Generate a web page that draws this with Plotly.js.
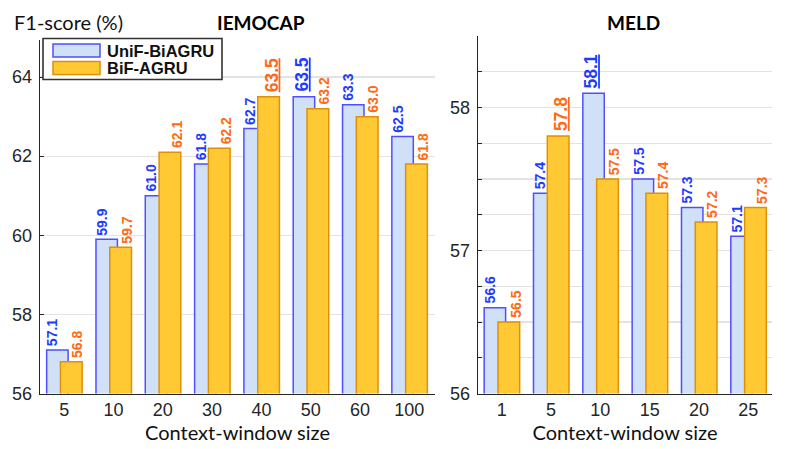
<!DOCTYPE html>
<html>
<head>
<meta charset="utf-8">
<script src="https://cdn.plot.ly/plotly-3.0.1.min.js"></script>
<style>html,body{margin:0;padding:0;background:#fff;}#chart{width:789px;height:449px;}</style>
</head>
<body>
<div id="chart"></div>
<script>
// ---- data ----
const seriesNames = ['UniF-BiAGRU', 'BiF-AGRU'];
const iemocapCats = ['5', '10', '20', '30', '40', '50', '60', '100'];
const iemocapUniF = [57.1, 59.9, 61.0, 61.8, 62.7, 63.5, 63.3, 62.5];
const iemocapBiF  = [56.8, 59.7, 62.1, 62.2, 63.5, 63.2, 63.0, 61.8];
const meldCats = ['1', '5', '10', '15', '20', '25'];
const meldUniF = [56.6, 57.4, 58.1, 57.5, 57.3, 57.1];
const meldBiF  = [56.5, 57.8, 57.5, 57.4, 57.2, 57.3];
const iemocapTicks = [56, 58, 60, 62, 64];
const meldTicks = [56, 57, 58];

// ---- styles ----
const blueFill = '#cfe0f7', blueEdge = '#4f4fff', blueText = '#1d3cff';
const orangeFill = '#ffc933', orangeEdge = '#e08f0a', orangeText = '#ff6a14';
const axisColor = '#262626', gridColor = '#e3e3e3';
const sansFamily = 'Liberation Sans, Arial, sans-serif';
const tickFont = {family: sansFamily, size: 18, color: axisColor};
const titleFontFamily = 'Lato, Open Sans, sans-serif';

function bars(cats, vals, xa, ya, isBlue) {
  return {
    type: 'bar', x: cats, y: vals, xaxis: xa, yaxis: ya,
    name: isBlue ? seriesNames[0] : seriesNames[1],
    showlegend: false,
    offset: isBlue ? -0.355 : -0.075,
    width: isBlue ? 0.435 : 0.44,
    marker: {color: isBlue ? blueFill : orangeFill,
             line: {color: isBlue ? blueEdge : orangeEdge, width: 1.5}},
    hoverinfo: 'x+y'
  };
}

function labels(vals, xref, yref, isBlue) {
  const mx = Math.max(...vals);
  return vals.map((v, i) => {
    const big = v === mx;
    const txt = '<b>' + v.toFixed(1) + '</b>';
    return {
      xref: xref, yref: yref, x: i, y: v,
      text: big ? '<u>' + txt + '</u>' : txt,
      showarrow: false, textangle: -90,
      xanchor: 'center', yanchor: 'bottom',
      xshift: isBlue ? (big ? -9 : -11.5) : (big ? 10 : 13.5),
      yshift: big ? 3 : 2,
      font: {family: sansFamily, size: big ? 17.5 : 14,
             color: isBlue ? blueText : orangeText}
    };
  });
}

const data = [
  bars(iemocapCats, iemocapUniF, 'x', 'y', true),
  bars(iemocapCats, iemocapBiF, 'x', 'y', false),
  bars(meldCats, meldUniF, 'x2', 'y2', true),
  bars(meldCats, meldBiF, 'x2', 'y2', false)
];

const W = 789, H = 449;
const px = v => v / W, py = v => (H - v) / H;

const annotations = [].concat(
  labels(iemocapUniF, 'x', 'y', true),
  labels(iemocapBiF, 'x', 'y', false),
  labels(meldUniF, 'x2', 'y2', true),
  labels(meldBiF, 'x2', 'y2', false),
  [
    {xref: 'paper', yref: 'paper', x: px(12), y: py(22), xanchor: 'left', yanchor: 'middle',
     showarrow: false, text: 'F1-score (%)', font: {family: titleFontFamily, size: 20, color: '#111'}},
    {xref: 'paper', yref: 'paper', x: px(261), y: py(23), xanchor: 'center', yanchor: 'middle',
     showarrow: false, text: '<b>IEMOCAP</b>', font: {family: titleFontFamily, size: 19, color: '#000'}},
    {xref: 'paper', yref: 'paper', x: px(633), y: py(23), xanchor: 'center', yanchor: 'middle',
     showarrow: false, text: '<b>MELD</b>', font: {family: titleFontFamily, size: 19, color: '#000'}},
    {xref: 'paper', yref: 'paper', x: px(105), y: py(51), xanchor: 'left', yanchor: 'middle',
     showarrow: false, text: '<b>' + seriesNames[0] + '</b>',
     font: {family: sansFamily, size: 16.5, color: '#111'}},
    {xref: 'paper', yref: 'paper', x: px(105), y: py(68), xanchor: 'left', yanchor: 'middle',
     showarrow: false, text: '<b>' + seriesNames[1] + '</b>',
     font: {family: sansFamily, size: 16.5, color: '#111'}}
  ]
);

const shapes = [
  {type: 'rect', xref: 'paper', yref: 'paper', x0: px(43), x1: px(222), y0: py(79.5), y1: py(38.5),
   fillcolor: '#fff', line: {color: '#333', width: 1.6}, layer: 'above'},
  {type: 'rect', xref: 'paper', yref: 'paper', x0: px(53), x1: px(100), y0: py(57), y1: py(44),
   fillcolor: blueFill, line: {color: blueEdge, width: 1.5}, layer: 'above'},
  {type: 'rect', xref: 'paper', yref: 'paper', x0: px(53), x1: px(100), y0: py(74.5), y1: py(61.5),
   fillcolor: orangeFill, line: {color: orangeEdge, width: 1.5}, layer: 'above'}
];

const xCommon = {
  type: 'category', showline: true, linecolor: axisColor, linewidth: 1.3,
  ticks: '', showgrid: false, zeroline: false, tickfont: tickFont, ticklabelstandoff: 0,
  title: {text: 'Context-window size', font: {family: titleFontFamily, size: 20, color: '#111'}, standoff: 3}
};
const yCommon = {
  showline: true, linecolor: axisColor, linewidth: 1.3, zeroline: false,
  ticks: 'inside', ticklen: 4, tickcolor: axisColor, tickwidth: 1,
  showgrid: true, gridcolor: gridColor, gridwidth: 1.2, tickfont: tickFont, ticklabelstandoff: 3
};

const layout = {
  width: W, height: H,
  margin: {l: 0, r: 0, t: 0, b: 0},
  paper_bgcolor: '#fff', plot_bgcolor: '#fff',
  barmode: 'overlay', showlegend: false,
  xaxis: Object.assign({}, xCommon, {domain: [px(40), px(435)], range: [-0.49, 7.52], anchor: 'y'}),
  yaxis: Object.assign({}, yCommon, {domain: [py(393.5), py(39.5)], range: [56, 64.95],
    tickvals: iemocapTicks, ticktext: iemocapTicks.map(String), anchor: 'x'}),
  xaxis2: Object.assign({}, xCommon, {domain: [px(478), px(772)], range: [-0.48, 5.48], anchor: 'y2'}),
  yaxis2: Object.assign({}, yCommon, {domain: [py(393.5), py(36)], range: [56, 58.5],
    tickvals: meldTicks, ticktext: meldTicks.map(String), anchor: 'x2',
    minor: {dtick: 0.25, tick0: 56, showgrid: true, gridcolor: gridColor, gridwidth: 1.2,
            ticks: 'inside', ticklen: 4, tickcolor: axisColor}}),
  annotations: annotations,
  shapes: shapes,
  font: {family: sansFamily, color: axisColor}
};

Plotly.newPlot('chart', data, layout, {displayModeBar: false, staticPlot: true});
</script>
</body>
</html>
